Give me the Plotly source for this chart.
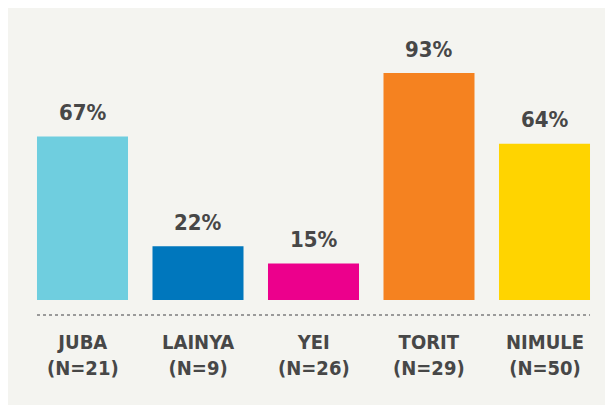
import plotly.graph_objects as go

categories = ["JUBA", "LAINYA", "YEI", "TORIT", "NIMULE"]
sample_sizes = ["(N=21)", "(N=9)", "(N=26)", "(N=29)", "(N=50)"]
values = [67, 22, 15, 93, 64]
colors = ["#6FCEDF", "#0077BD", "#EC008C", "#F58220", "#FFD400"]

W, H = 613, 405
FONT = "DejaVu Sans Condensed, DejaVu Sans, sans-serif"
TXT = "#474747"
BASE = 292      # pixel row of zero in the figure
PX_PER = 2.44   # pixels per percent
STEP = 115.5    # pixels between category centres
X0 = 74.5       # pixel column of first category centre

x = list(range(len(categories)))

fig = go.Figure()
fig.add_trace(go.Bar(
    x=x, y=values, marker=dict(color=colors, line=dict(width=0)),
    hoverinfo="skip", showlegend=False,
))

for xi, v in zip(x, values):
    fig.add_annotation(x=xi, y=v, text=f"<b>{v}%</b>", showarrow=False,
                       yanchor="middle", yshift=24,
                       font=dict(family=FONT, size=22, color=TXT))

for xi, c, n in zip(x, categories, sample_sizes):
    fig.add_annotation(x=xi, y=-(355 - 300) / PX_PER, text=f"<b>{c}</b><br><b>{n}</b>",
                       showarrow=False, yanchor="middle", align="center",
                       font=dict(family=FONT, size=20, color=TXT))

fig.add_shape(type="line", xref="x", yref="y",
              x0=-0.394, x1=len(categories) - 1 + 0.394,
              y0=-15 / PX_PER, y1=-15 / PX_PER,
              line=dict(color="#9A9A9A", width=2, dash="dot"))

fig.update_layout(
    width=W, height=H,
    margin=dict(l=0, r=0, t=0, b=0),
    paper_bgcolor="#F4F4F0", plot_bgcolor="rgba(0,0,0,0)",
    bargap=0.212,
    xaxis=dict(range=[-X0 / STEP, (W - X0) / STEP], visible=False, fixedrange=True),
    yaxis=dict(range=[-(H - BASE) / PX_PER, BASE / PX_PER], visible=False, fixedrange=True),
)

fig.write_html("out.html", config={"displayModeBar": False})
